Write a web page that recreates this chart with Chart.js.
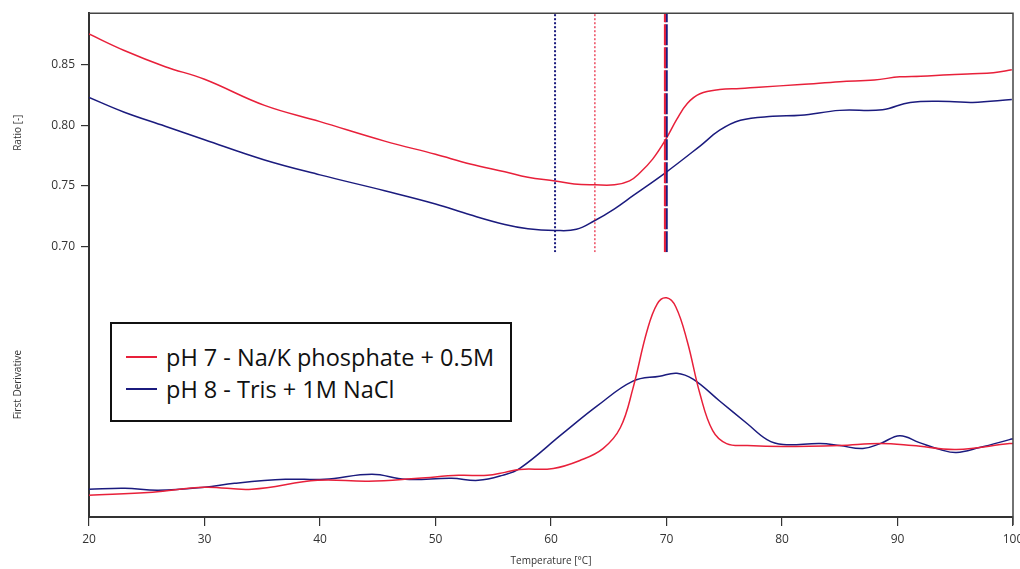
<!DOCTYPE html>
<html>
<head>
<meta charset="utf-8">
<script src="https://cdn.jsdelivr.net/npm/chart.js@4"></script>
<style>
  html, body { margin: 0; padding: 0; background: #fff; }
  #wrap { position: relative; width: 1020px; height: 569px; }
  #legend {
    position: absolute; left: 110px; top: 322px; width: 402px; height: 100px;
    border: 2px solid #111; background: #fff;
    font-family: "Open Sans", sans-serif; font-size: 23.5px; color: #111;
    padding-top: 17px; box-sizing: border-box;
  }
  .item { display: flex; align-items: center; height: 32px; }
  .swatch { width: 31px; height: 2px; margin-left: 14px; margin-right: 9px; }
</style>
</head>
<body>
<div id="wrap">
  <canvas id="chart" width="1020" height="569"></canvas>
  <div id="legend"></div>
</div>
<script>
// series labels and colours
const seriesLabels = ["pH 7 - Na/K phosphate + 0.5M", "pH 8 - Tris + 1M NaCl"];
const red = "#e8203a";
const blue = "#1b1b7e";

// ratio curves (temperature, ratio)
const ratioTempA = [20, 23, 26.6, 30, 35.2, 40, 45.6, 50, 53, 56, 58, 60.35, 62, 63.8, 65.5, 66.8, 67.7, 68.8, 69.9, 70.9, 71.8, 72.9, 74.6, 76.4, 78, 81.6, 85, 88, 90.2, 92, 94.5, 96.5, 98.3, 99.9];
const ratioA = [0.8754, 0.862, 0.8484, 0.838, 0.8164, 0.803, 0.7869, 0.776, 0.768, 0.7615, 0.757, 0.754, 0.7515, 0.7508, 0.7508, 0.754, 0.7607, 0.772, 0.7877, 0.805, 0.818, 0.826, 0.8295, 0.8303, 0.8315, 0.8336, 0.836, 0.8375, 0.840, 0.8405, 0.8418, 0.8425, 0.8434, 0.8459];

const ratioTempB = [20, 23, 26.6, 30, 35.2, 40, 45.6, 50, 53, 56, 58, 60.35, 62.2, 63.8, 65.5, 67.1, 69.9, 72.9, 74.6, 76.4, 79.2, 81.6, 85, 88.7, 91.1, 94.5, 96.5, 99.9];
const ratioB = [0.823, 0.811, 0.7992, 0.788, 0.7713, 0.759, 0.7459, 0.735, 0.726, 0.718, 0.7145, 0.7131, 0.714, 0.7213, 0.731, 0.7418, 0.7607, 0.7828, 0.7959, 0.8041, 0.8074, 0.8082, 0.8123, 0.8128, 0.8189, 0.8197, 0.8189, 0.8213];

// first derivative curves (temperature, arbitrary units)
const derivTempA = [20, 25.5, 30, 34.1, 39.8, 44.2, 48.5, 52, 54.5, 56, 57.3, 60.2, 62.5, 64.5, 66, 67.1, 68.3, 69.2, 70, 70.8, 71.8, 72.9, 74, 75.2, 77, 80.1, 85, 88.5, 91.3, 95.1, 99.7, 100];
const derivA = [0.22, 0.25, 0.30, 0.28, 0.37, 0.36, 0.39, 0.42, 0.42, 0.45, 0.48, 0.49, 0.57, 0.69, 0.90, 1.30, 1.87, 2.15, 2.21, 2.12, 1.77, 1.24, 0.87, 0.74, 0.72, 0.71, 0.72, 0.74, 0.72, 0.68, 0.74, 0.74];

const derivTempB = [20, 23.1, 26, 30, 32.6, 37, 40.4, 44.5, 47.4, 51.4, 53.7, 55.8, 57.3, 61, 64, 67.1, 69.4, 70.9, 72.3, 74.6, 77, 78.7, 80.1, 83.3, 85, 87, 88.5, 90.2, 91.9, 93.7, 95.1, 97.1, 99.7, 100];
const derivB = [0.28, 0.29, 0.27, 0.30, 0.34, 0.38, 0.38, 0.43, 0.38, 0.39, 0.37, 0.42, 0.49, 0.84, 1.12, 1.37, 1.42, 1.45, 1.39, 1.17, 0.94, 0.78, 0.73, 0.74, 0.72, 0.69, 0.74, 0.82, 0.75, 0.68, 0.65, 0.70, 0.78, 0.79];

// vertical marker temperatures
const minTempA = 63.8, minTempB = 60.35;
const tmA = 69.86, tmB = 70.0;

// axis settings
const xTicks = [20, 30, 40, 50, 60, 70, 80, 90, 100];
const ratioTicks = [0.70, 0.75, 0.80, 0.85];
const ratioMin = 0.6951, ratioMax = 0.8926;
const derivMin = 0, derivMax = 2.67;

function pts(xs, ys) {
    return xs.map((x, i) => ({ x: x, y: ys[i] }));
}
function vline(x) {
    return [{ x: x, y: ratioMin }, { x: x, y: ratioMax }];
}

const curve = { pointRadius: 0, borderWidth: 1.5, fill: false, tension: 0.4 };
const marker = { pointRadius: 0, fill: false, tension: 0, yAxisID: 'yRatio' };

// frame round the plot area (top and right sides)
const framePlugin = {
    id: 'frame',
    afterDraw(chart) {
        const a = chart.chartArea;
        const ctx = chart.ctx;
        ctx.save();
        ctx.strokeStyle = '#444';
        ctx.lineWidth = 1.5;
        ctx.beginPath();
        ctx.moveTo(a.left, a.top);
        ctx.lineTo(a.right, a.top);
        ctx.lineTo(a.right, a.bottom + 8);
        ctx.stroke();
        ctx.restore();
    }
};

const tickFont = { family: 'Open Sans', size: 12 };
const titleFont = { family: 'Open Sans', size: 10 };

const ctx = document.getElementById('chart').getContext('2d');
const chart = new Chart(ctx, {
    type: 'line',
    data: {
        datasets: [
            Object.assign({ data: vline(minTempB), borderColor: blue, borderWidth: 2, borderDash: [2, 2] }, marker),
            Object.assign({ data: vline(minTempA), borderColor: red, borderWidth: 1.2, borderDash: [2, 2] }, marker),
            Object.assign({ data: vline(tmA), borderColor: red, borderWidth: 2, borderDash: [21, 2] }, marker),
            Object.assign({ data: vline(tmB), borderColor: blue, borderWidth: 2.5, borderDash: [21, 2] }, marker),
            Object.assign({ label: seriesLabels[0], data: pts(ratioTempA, ratioA), borderColor: red, yAxisID: 'yRatio' }, curve),
            Object.assign({ label: seriesLabels[1], data: pts(ratioTempB, ratioB), borderColor: blue, yAxisID: 'yRatio' }, curve),
            Object.assign({ label: seriesLabels[0], data: pts(derivTempA, derivA), borderColor: red, yAxisID: 'yDeriv' }, curve),
            Object.assign({ label: seriesLabels[1], data: pts(derivTempB, derivB), borderColor: blue, yAxisID: 'yDeriv' }, curve)
        ]
    },
    options: {
        responsive: false,
        animation: false,
        layout: { padding: { top: 9, right: 7, left: 0, bottom: 0 } },
        plugins: { legend: { display: false }, tooltip: { enabled: false } },
        scales: {
            x: {
                type: 'linear', min: 20, max: 100,
                afterBuildTicks: s => { s.ticks = xTicks.map(v => ({ value: v })); },
                afterFit: s => { s.height = 52; s.paddingLeft = 0; s.paddingRight = 0; },
                grid: { drawOnChartArea: false, drawTicks: true, tickLength: 9, color: '#333', lineWidth: 1.2 },
                border: { color: '#333', width: 2 },
                ticks: { font: tickFont, color: '#333', padding: 6, maxRotation: 0 },
                title: { display: true, text: 'Temperature [°C]', font: titleFont, color: '#333', padding: { top: 0, bottom: 2 } }
            },
            yDeriv: {
                type: 'linear', position: 'left', stack: 'panels', stackWeight: 267,
                min: derivMin, max: derivMax,
                afterFit: s => { s.width = 89; },
                grid: { display: false },
                border: { color: '#333', width: 2 },
                ticks: { display: false },
                title: { display: true, text: 'First Derivative', font: titleFont, color: '#333', padding: { top: 12, bottom: 0 } }
            },
            yRatio: {
                type: 'linear', position: 'left', stack: 'panels', stackWeight: 241,
                min: ratioMin, max: ratioMax,
                afterBuildTicks: s => { s.ticks = ratioTicks.map(v => ({ value: v })); },
                afterFit: s => { s.width = 89; },
                grid: { drawOnChartArea: false, drawTicks: true, tickLength: 8, color: '#333', lineWidth: 1.2 },
                border: { color: '#333', width: 2 },
                ticks: { font: tickFont, color: '#333', padding: 6, callback: v => v.toFixed(2) },
                title: { display: true, text: 'Ratio [-]', font: titleFont, color: '#333', padding: { top: 12, bottom: 0 } }
            }
        }
    },
    plugins: [framePlugin]
});

// legend box built from the series labels
const legend = document.getElementById('legend');
[red, blue].forEach((c, i) => {
    const row = document.createElement('div');
    row.className = 'item';
    row.innerHTML = '<span class="swatch" style="background:' + c + '"></span><span>' + seriesLabels[i] + '</span>';
    legend.appendChild(row);
});
</script>
</body>
</html>
